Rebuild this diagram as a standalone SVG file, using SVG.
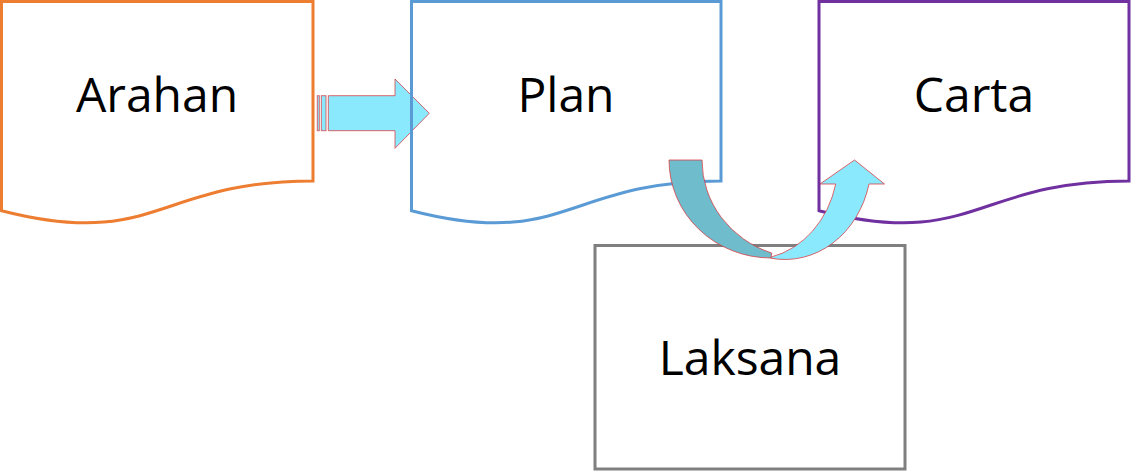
<svg xmlns="http://www.w3.org/2000/svg" width="1132" height="471" viewBox="0 0 1132 471">
<style>
.doc{fill:none;stroke-width:3}
.lbl{font-family:"Open Sans","Noto Sans",sans-serif;font-size:48px;fill:#000;text-anchor:middle}
.arr{stroke:#D9363E;stroke-opacity:0.75;stroke-width:1;stroke-linejoin:miter}
</style>
<rect width="1132" height="471" fill="#fff"/>
<g id="connectors">
<g id="arrow-arahan-plan" class="arr" fill="#8AE9FC">
<rect x="317.3" y="95.7" width="2" height="35"/>
<rect x="321.3" y="95.7" width="4.7" height="35"/>
<path d="M328.3,95.7 L395,95.7 L395,79 L429.3,113.3 L395,148.3 L395,130.7 L328.3,130.7 Z"/>
</g>
</g>
<g id="arahan">
<path class="doc" stroke="#ED7D31" d="M1.5,1.5 L313,1.5 L313,181 C157,181 157,250.2 1.5,210.7 Z"/>
<text class="lbl" x="157" y="112">Arahan</text>
</g>
<g id="plan">
<path class="doc" stroke="#5B9BD5" d="M411.5,1.5 L721,1.5 L721,181 C566,181 566,250.2 411.5,210.7 Z"/>
<text class="lbl" x="566" y="112">Plan</text>
</g>
<g id="carta">
<path class="doc" stroke="#7030A0" d="M819,1.5 L1129,1.5 L1129,181 C974,181 974,250.2 819,210.7 Z"/>
<text class="lbl" x="974" y="112">Carta</text>
</g>
<g id="laksana">
<rect x="595" y="245.5" width="310" height="223.5" fill="none" stroke="#7F7F7F" stroke-width="3"/>
<text class="lbl" x="750" y="375">Laksana</text>
</g>
<g id="connectors2">
<g id="arrow-plan-laksana-carta" class="arr">
<path fill="#6FBCCC" d="M669,160 L702,160 A102,98 0 0 0 771.7,253 L771,258 A102,98 0 0 1 669,160 Z"/>
<path fill="#8AE9FC" d="M771,258.2 A86.3,98 0 0 0 869,184 L884.5,184 L854.5,160 L820,184 L835.7,184 A86.3,98 0 0 1 771.4,257 Z"/>
</g>
</g>
</svg>
